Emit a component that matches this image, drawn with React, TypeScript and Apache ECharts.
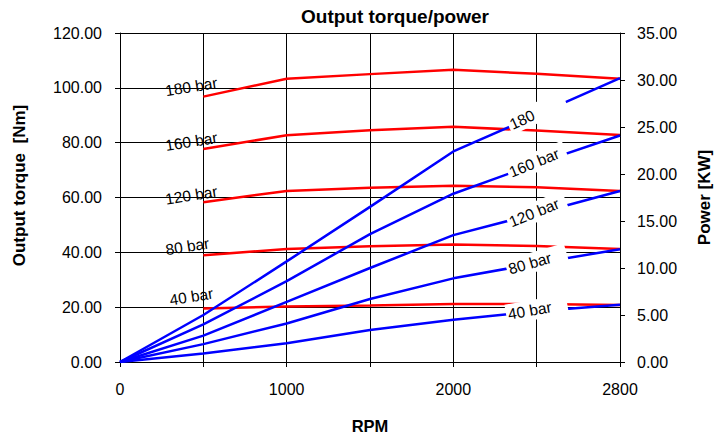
import React, { useEffect, useRef } from 'react';
import * as echarts from 'echarts';

// RPM categories (x axis)
const rpm = ['0', '500', '1000', '1500', '2000', '2500', '2800'];

// Output torque [Nm] per pressure (left axis)
const torque180 = [null, 96.8, 103.3, 105.0, 106.6, 105.1, 103.3];
const torque160 = [null, 77.7, 82.7, 84.5, 85.8, 84.4, 82.8];
const torque120 = [null, 58.3, 62.4, 63.6, 64.3, 63.7, 62.4];
const torque80 = [null, 38.9, 41.2, 42.2, 42.9, 42.3, 41.2];
const torque40 = [null, 19.5, 20.2, 20.6, 21.2, 21.2, 20.8];

// Power [KW] per pressure (right axis)
const power180 = [0, 5.0, 10.7, 16.5, 22.4, 26.3, 30.2];
const power160 = [0, 4.0, 8.6, 13.6, 17.9, 21.1, 24.1];
const power120 = [0, 2.8, 6.4, 10.0, 13.5, 15.8, 18.2];
const power80 = [0, 1.9, 4.1, 6.7, 8.9, 10.5, 12.0];
const power40 = [0, 0.9, 2.0, 3.4, 4.5, 5.4, 6.1];

// Label texts
const torqueLabels = ['180 bar', '160 bar', '120 bar', '80 bar', '40 bar'];
const powerLabels = ['180', '160 bar', '120 bar', '80 bar', '40 bar'];

const FONT = '"Liberation Sans", Arial, Helvetica, sans-serif';

function rotOffset(dx: number, dy: number, deg: number): number[] {
  const t = (deg * Math.PI) / 180;
  return [dx * Math.cos(t) - dy * Math.sin(t), dx * Math.sin(t) + dy * Math.cos(t)];
}

const torqueLabelShift = [
  [-12, -10],
  [-12, -7.5],
  [-12, -7],
  [-16, -9],
  [-12, -12],
];
const powerLabelRot = [25, 22, 22, 16, 10];

export default function App() {
  const ref = useRef<HTMLDivElement>(null);

  useEffect(() => {
    if (!ref.current) return;
    const chart = echarts.init(ref.current, undefined, { renderer: 'svg' });

    const torqueSets = [torque180, torque160, torque120, torque80, torque40];
    const powerSets = [power180, power160, power120, power80, power40];

    const torqueSeries = torqueSets.map((vals, si) => ({
      name: 'Torque ' + torqueLabels[si],
      type: 'line',
      yAxisIndex: 0,
      z: 2,
      symbol: 'circle',
      symbolSize: 0,
      showSymbol: true,
      silent: true,
      connectNulls: false,
      lineStyle: { color: '#ff0000', width: 2.5 },
      itemStyle: { color: '#ff0000' },
      data: vals.map((v, i) => {
        if (i === 1) {
          const sh = torqueLabelShift[si];
          return {
            value: v,
            label: {
              show: true,
              position: 'inside',
              formatter: torqueLabels[si],
              rotate: 9,
              offset: rotOffset(sh[0], sh[1], 9),
              color: '#000',
              fontSize: 15.5,
              fontFamily: FONT,
            },
          };
        }
        return v;
      }),
    }));

    const powerSeries = powerSets.map((vals, si) => ({
      name: 'Power ' + powerLabels[si],
      type: 'line',
      yAxisIndex: 1,
      z: 3,
      symbol: 'circle',
      symbolSize: 0,
      showSymbol: true,
      silent: true,
      lineStyle: { color: '#0000ff', width: 2.5 },
      itemStyle: { color: '#0000ff' },
      data: vals.map((v, i) => {
        if (i === 5) {
          return {
            value: v,
            label: {
              show: true,
              position: 'inside',
              formatter: '{t|' + powerLabels[si] + '}',
              rotate: powerLabelRot[si],
              offset: rotOffset(0, -2, powerLabelRot[si]),
              backgroundColor: '#ffffff',
              padding: [2, 2, 2, 2],
              rich: {
                t: {
                  width: 58,
                  align: 'left',
                  color: '#000',
                  fontSize: 15.5,
                  fontFamily: FONT,
                },
              },
            },
          };
        }
        return v;
      }),
    }));

    chart.setOption({
      animation: false,
      backgroundColor: '#ffffff',
      title: {
        text: 'Output torque/power',
        left: 296,
        top: 2,
        textStyle: { fontSize: 19, fontWeight: 'bold', color: '#000', fontFamily: FONT },
      },
      grid: { left: 120, right: 102, top: 33, bottom: 77 },
      xAxis: {
        type: 'category',
        data: rpm,
        boundaryGap: false,
        name: 'RPM',
        nameLocation: 'middle',
        nameGap: 55,
        nameTextStyle: { fontSize: 16.5, fontWeight: 'bold', color: '#000', fontFamily: FONT },
        axisLine: { show: true, lineStyle: { color: '#000', width: 1 } },
        axisTick: { show: true, interval: 0, length: 5, inside: false, lineStyle: { color: '#000' } },
        axisLabel: { interval: 1, margin: 19, fontSize: 16, color: '#000', fontFamily: FONT },
        splitLine: { show: true, interval: 0, lineStyle: { color: '#000', width: 1 } },
      },
      yAxis: [
        {
          type: 'value',
          min: 0,
          max: 120,
          interval: 20,
          position: 'left',
          name: 'Output torque  [Nm]',
          nameLocation: 'middle',
          nameGap: 92,
          nameTextStyle: {
            fontSize: 17,
            fontWeight: 'bold',
            color: '#000',
            fontFamily: FONT,
            padding: [0, 0, 0, 24],
          },
          axisLine: { show: true, lineStyle: { color: '#000', width: 1 } },
          axisTick: { show: true, length: 5, lineStyle: { color: '#000' } },
          axisLabel: {
            margin: 18,
            fontSize: 16,
            color: '#000',
            fontFamily: FONT,
            formatter: (v: number) => v.toFixed(2),
          },
          splitLine: { show: true, lineStyle: { color: '#000', width: 1 } },
        },
        {
          type: 'value',
          min: 0,
          max: 35,
          interval: 5,
          position: 'right',
          name: 'Power [KW]',
          nameLocation: 'middle',
          nameGap: 76,
          nameTextStyle: { fontSize: 17, fontWeight: 'bold', color: '#000', fontFamily: FONT },
          axisLine: { show: true, lineStyle: { color: '#000', width: 1 } },
          axisTick: { show: true, length: 5, lineStyle: { color: '#000' } },
          axisLabel: {
            margin: 17,
            fontSize: 16,
            color: '#000',
            fontFamily: FONT,
            formatter: (v: number) => v.toFixed(2),
          },
          splitLine: { show: false },
        },
      ],
      series: [...torqueSeries, ...powerSeries],
    });

    return () => {
      chart.dispose();
    };
  }, []);

  return (
    <div
      ref={ref}
      style={{ position: 'fixed', left: 0, top: 0, width: 722, height: 439, background: '#fff' }}
    />
  );
}
